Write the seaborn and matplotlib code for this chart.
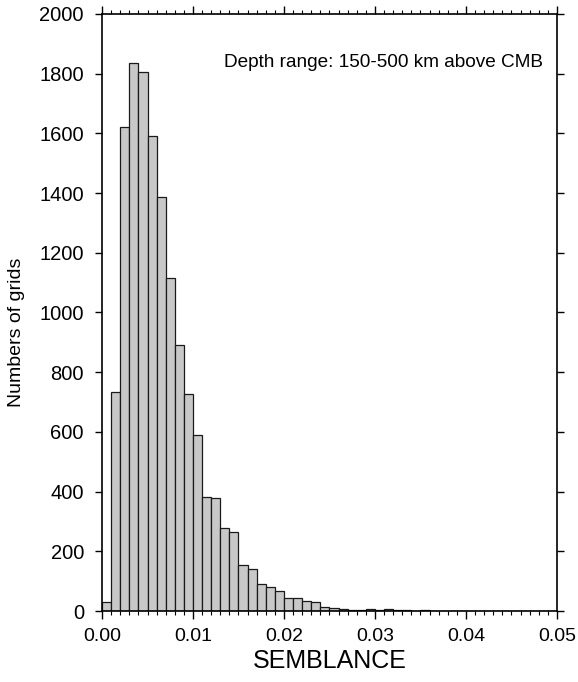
import numpy as np
import matplotlib
matplotlib.use("Agg")
import matplotlib.pyplot as plt
import seaborn as sns
from matplotlib.ticker import MultipleLocator

# Histogram of semblance values (bin width 0.001)
bin_edges = [round(i * 0.001, 3) for i in range(51)]
counts = [31, 735, 1620, 1837, 1807, 1591, 1388, 1116, 890, 726,
          590, 383, 380, 279, 263, 154, 141, 89, 79, 68,
          45, 42, 32, 30, 13, 9, 6, 5, 3, 7,
          4, 7, 4, 2, 1, 5, 0, 0, 0, 0,
          0, 0, 0, 0, 0, 0, 0, 0, 0, 0]
bin_centers = [round(e + 0.0005, 4) for e in bin_edges[:-1]]
y_ticks = [0, 200, 400, 600, 800, 1000, 1200, 1400, 1600, 1800, 2000]
x_ticks = [0.00, 0.01, 0.02, 0.03, 0.04, 0.05]
x_ticklabels = ["0.00", "0.01", "0.02", "0.03", "0.04", "0.05"]

sns.set_theme(style="ticks")
plt.rcParams["font.family"] = ["Liberation Sans", "DejaVu Sans"]
plt.rcParams["text.color"] = "black"
plt.rcParams["axes.labelcolor"] = "black"

fig = plt.figure(figsize=(5.78, 6.82), dpi=100)
ax = fig.add_axes([0.1765, 0.1041, 0.787, 0.8754])

sns.histplot(x=bin_centers, weights=counts, bins=bin_edges, ax=ax,
             color="#c8c8c8", edgecolor="#1a1a1a", linewidth=0.9, alpha=1.0)

ax.set_xlim(0, 0.05)
ax.set_ylim(0, 2000)
ax.set_xticks(x_ticks)
ax.set_xticklabels(x_ticklabels, fontsize=14)
ax.xaxis.set_minor_locator(MultipleLocator(0.001))
ax.set_yticks(y_ticks)
ax.set_yticklabels([str(v) for v in y_ticks], fontsize=14.5)

ax.tick_params(axis="x", which="major", direction="out", length=6, width=1.0,
               top=True, bottom=True, colors="black", labelcolor="black", pad=6)
ax.tick_params(axis="x", which="minor", direction="out", length=3, width=0.8,
               top=True, bottom=True, colors="black")
ax.tick_params(axis="y", which="major", direction="out", length=5, width=1.0,
               left=True, right=True, colors="black", labelcolor="black", pad=8)

for side in ["left", "right", "top", "bottom"]:
    ax.spines[side].set_visible(True)
    ax.spines[side].set_linewidth(1.2)
    ax.spines[side].set_color("black")

ax.set_xlabel("SEMBLANCE", fontsize=18, labelpad=3)
ax.set_ylabel("Numbers of grids", fontsize=14, labelpad=8)
ax.yaxis.set_label_coords(-0.169, 0.466)

ax.text(0.969, 0.918, "Depth range: 150-500 km above CMB", transform=ax.transAxes,
        ha="right", va="center", fontsize=13.7, color="black")

fig.savefig("out.png", dpi=100)
